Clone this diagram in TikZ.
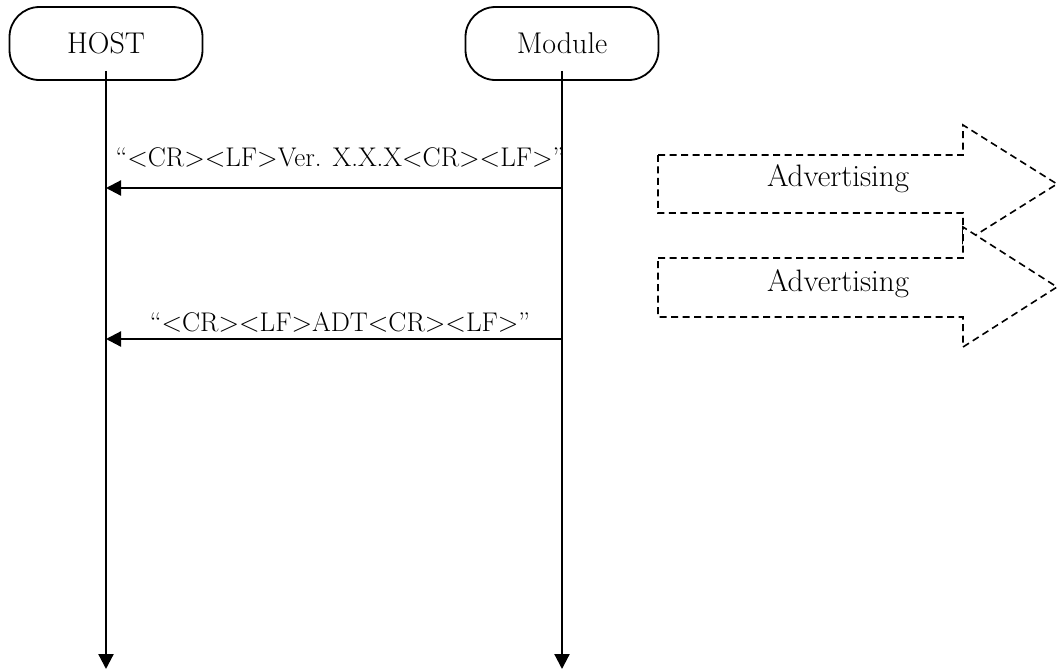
\documentclass[tikz,border=0pt]{standalone}
\usetikzlibrary{arrows.meta}
\begin{document}
\begin{tikzpicture}[x=1pt, y=-1pt,
    actor/.style={draw, line width=1.8pt, rounded corners=30pt, minimum width=193pt, minimum height=73pt, font=\fontsize{30}{34}\selectfont},
    msg/.style={font=\fontsize{27}{31}\selectfont, inner sep=0pt, anchor=base},
    advbox/.style={draw, dash pattern=on 7pt off 4.5pt, line width=1.6pt, fill=white},
    advtext/.style={font=\fontsize{31}{35}\selectfont, inner sep=0pt, anchor=base},
    >={Triangle[length=15pt, width=15pt]}]
    \useasboundingbox (0,0) rectangle (1059,670);

    % Draw the two actors
    \node[actor] (host) at (106, 43.5) {HOST};
    \node[actor] (module) at (562, 43.5) {Module};

    % Draw lifelines
    \coordinate (hostend) at (106, 669);
    \coordinate (moduleend) at (562, 669);
    \draw[line width=2.2pt, ->] ([yshift=10pt]host.south) -- (hostend);
    \draw[line width=2.2pt, ->] ([yshift=10pt]module.south) -- (moduleend);

    % Draw messages
    \coordinate (m1) at (562, 188);
    \coordinate (h1) at (106, 188);
    \coordinate (m2) at (562, 339);
    \coordinate (h2) at (106, 339);
    \draw[line width=2.2pt, ->] (m1) -- (h1);
    \draw[line width=2.2pt, ->] (m2) -- (h2);
    \node[msg] (ver) at (340, 166) {``<CR><LF>Ver. X.X.X<CR><LF>''};
    \node[msg] (adt) at (340, 331) {``<CR><LF>ADT<CR><LF>''};

    % Draw advertising arrows
    \draw[advbox] (658,155) -- (963,155) -- (963,125) -- (1057,184) -- (963,243) -- (963,213) -- (658,213) -- cycle;
    \draw[advbox] (658,258) -- (963,258) -- (963,227) -- (1057,287) -- (963,347) -- (963,317) -- (658,317) -- cycle;
    \node[advtext] (adv1) at (838, 186) {Advertising};
    \node[advtext] (adv2) at (838, 291) {Advertising};
\end{tikzpicture}
\end{document}
